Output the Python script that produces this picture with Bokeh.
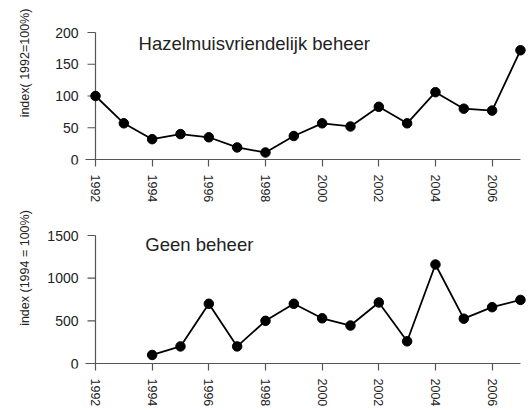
import math
from bokeh.plotting import figure
from bokeh.models import FixedTicker, Range1d, Label
from bokeh.core.properties import value
from bokeh.layouts import column
from bokeh.embed import file_html
from bokeh.resources import INLINE

# ---- data ----
years_top = [1992, 1993, 1994, 1995, 1996, 1997, 1998, 1999,
             2000, 2001, 2002, 2003, 2004, 2005, 2006, 2007]
index_top = [100, 57, 32, 40, 35, 19, 11, 37, 57, 52, 83, 57, 106, 80, 77, 172]

years_bottom = [1994, 1995, 1996, 1997, 1998, 1999, 2000,
                2001, 2002, 2003, 2004, 2005, 2006, 2007]
index_bottom = [100, 200, 700, 200, 500, 700, 530, 445, 715, 260, 1160, 525, 660, 745]

x_ticks = [1992, 1994, 1996, 1998, 2000, 2002, 2004, 2006]
top_y_ticks = [0, 50, 100, 150, 200]
top_y_labels = ["0", "50", "100", "150", "200"]
bottom_y_ticks = [0, 500, 1000, 1500]
bottom_y_labels = ["0", "500", "1000", "1500"]

top_title = "index( 1992=100%)"
bottom_title = "index (1994 = 100%)"
top_note = "Hazelmuisvriendelijk beheer"
bottom_note = "Geen beheer"

# ---- layout / style ----
FONT = "Liberation Sans"
AX = "#555555"
TXT = "#222222"
W = 530
Y_AXIS_PX = 95          # screen x of the y axis (first year)
PX_PER_YEAR = 28.33
X_FIRST, X_LAST = years_top[0], years_top[-1]
X_START = X_FIRST - Y_AXIS_PX / PX_PER_YEAR
X_END = X_START + W / PX_PER_YEAR
STUB = 10 / PX_PER_YEAR
BELOW_ZERO = 5          # px of frame below the zero line


def panel(xs, ys, yticks, ylabels, axis_px, zero_px, fig_h,
          title, title_y, note, note_x, note_y):
    y_max = yticks[-1]
    scale = axis_px / y_max
    frame_h = zero_px + BELOW_ZERO
    y_start = -BELOW_ZERO / scale
    y_end = y_start + frame_h / scale
    p = figure(width=W, height=fig_h,
               x_range=Range1d(X_START, X_END), y_range=Range1d(y_start, y_end),
               output_backend="svg", toolbar_location=None,
               min_border_left=0, min_border_right=0,
               min_border_top=0, min_border_bottom=fig_h - frame_h)
    p.outline_line_color = None
    p.xgrid.visible = False
    p.ygrid.visible = False
    p.yaxis.visible = False
    p.background_fill_color = "white"
    p.border_fill_color = "white"

    # axes lines, drawn at zero and at the first year
    tick_len = 8 / PX_PER_YEAR
    p.segment(x0=[X_FIRST - STUB], y0=[0], x1=[X_LAST], y1=[0],
              line_color=AX, line_width=1.2)
    p.segment(x0=[X_FIRST], y0=[0], x1=[X_FIRST], y1=[y_max],
              line_color=AX, line_width=1.2)
    p.segment(x0=[X_FIRST - tick_len] * len(yticks), y0=yticks,
              x1=[X_FIRST] * len(yticks), y1=yticks,
              line_color=AX, line_width=1.2)
    p.text(x=[X_FIRST] * len(yticks), y=yticks, text=ylabels,
           x_offset=-17, text_align="right", text_baseline="middle",
           text_font=value(FONT), text_font_size="14px", text_color=TXT)

    p.line(xs, ys, line_color="black", line_width=1.8)
    p.scatter(xs, ys, size=9.5, fill_color="black", line_color="black")

    ax = p.xaxis[0]
    ax.ticker = FixedTicker(ticks=x_ticks)
    ax.axis_line_color = None
    ax.major_tick_line_color = AX
    ax.major_tick_line_width = 1.2
    ax.major_tick_in = BELOW_ZERO
    ax.major_tick_out = 7 - BELOW_ZERO
    ax.minor_tick_line_color = None
    ax.major_label_standoff = 8
    ax.major_label_orientation = -math.pi / 2
    ax.major_label_text_font = FONT
    ax.major_label_text_font_size = "12.5px"
    ax.major_label_text_color = TXT

    p.add_layout(Label(x=X_FIRST, y=title_y, x_offset=-71, text=title,
                       angle=math.pi / 2, text_align="center",
                       text_baseline="middle", text_font=FONT,
                       text_font_size="12.5px", text_color=TXT))
    p.add_layout(Label(x=note_x, y=note_y, text=note,
                       text_align="left", text_baseline="alphabetic",
                       text_font=FONT, text_font_size="18.5px",
                       text_color=TXT))
    return p


p1 = panel(years_top, index_top, top_y_ticks, top_y_labels, 127, 159, 205,
           top_title, 152, top_note, 1993.52, 183)
p2 = panel(years_bottom, index_bottom, bottom_y_ticks, bottom_y_labels,
           128, 158, 205, bottom_title, 1119, bottom_note, 1993.76, 1400)

layout = column(p1, p2, spacing=0)
open("out.html", "w").write(file_html(layout, INLINE))
